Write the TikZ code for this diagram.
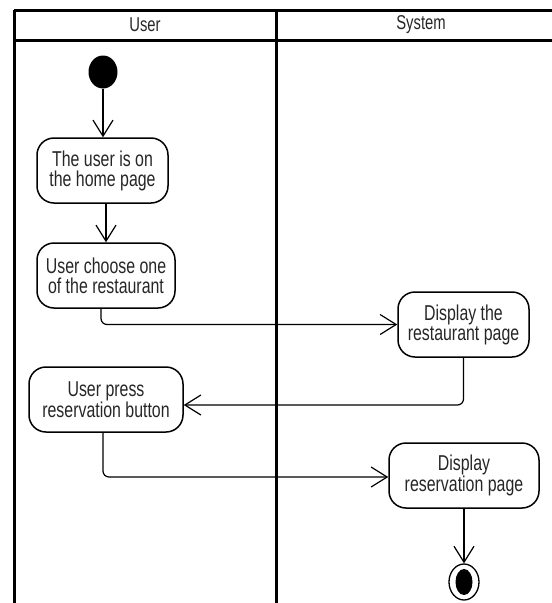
\documentclass[tikz,border=0pt]{standalone}
\usepackage{fontspec}
\setmainfont[FakeStretch=0.74]{Liberation Sans}
\usetikzlibrary{arrows.meta,shapes.geometric}
\begin{document}
\begin{tikzpicture}[x=1pt,y=-1pt,
  act/.style={draw,line width=1.5pt,rounded corners=17pt,minimum height=65pt,
    align=center,inner sep=0pt,text=black!85,
    font=\fontsize{21.5}{20}\selectfont},
  hdr/.style={inner sep=0pt,text=black!85,font=\fontsize{20}{20}\selectfont},
  flow/.style={line width=1.2pt,
    -{Straight Barb[length=16pt,width=20pt,line width=1.2pt]}},
  lane/.style={line width=3pt},
  elbow/.style={rounded corners=6pt}
]
\useasboundingbox (0,0) rectangle (552,603);
% swimlanes
\draw[lane] (14,10) -- (552,10);
\draw[lane] (14,40) -- (552,40);
\draw[lane] (14,10) -- (14,603);
\draw[lane] (276,10) -- (276,603);
\node[hdr] (hu) at (145,25) {User};
\node[hdr] (hs) at (421,25) {System};
% nodes
\node[ellipse,fill=black,minimum width=29pt,minimum height=33pt,inner sep=0pt] (start) at (103,72) {};
\node[act,minimum width=131pt] (b1) at (102.5,170.5) {The user is on\\the home page};
\node[act,minimum width=138pt] (b2) at (106,275.5) {User choose one\\of the restaurant};
\node[act,minimum width=131pt] (b3) at (463.5,324.5) {Display the\\restaurant page};
\node[act,minimum width=154pt] (b4) at (106,399.5) {User press\\reservation button};
\node[act,minimum width=150pt] (b5) at (464,475.5) {Display\\reservation page};
\node[ellipse,draw,line width=1.3pt,minimum width=30pt,minimum height=36pt,inner sep=0pt] (end) at (464,582) {};
\node[ellipse,fill=black,minimum width=17pt,minimum height=26pt,inner sep=0pt] (endin) at (end) {};
% connectors
\draw[flow] (start.south) -- (start.south |- b1.north);
\draw[flow] (b2.north |- b1.south) -- (b2.north);
\draw[flow,elbow] ([xshift=-5pt]b2.south) |- (b3.west);
\draw[flow,elbow] (b3.south) |- ([yshift=-5.5pt]b4.east);
\draw[flow,elbow] ([xshift=-3pt]b4.south) |- ([yshift=-1.5pt]b5.west);
\draw[flow] (b5.south) -- (end.north);
\end{tikzpicture}
\end{document}
